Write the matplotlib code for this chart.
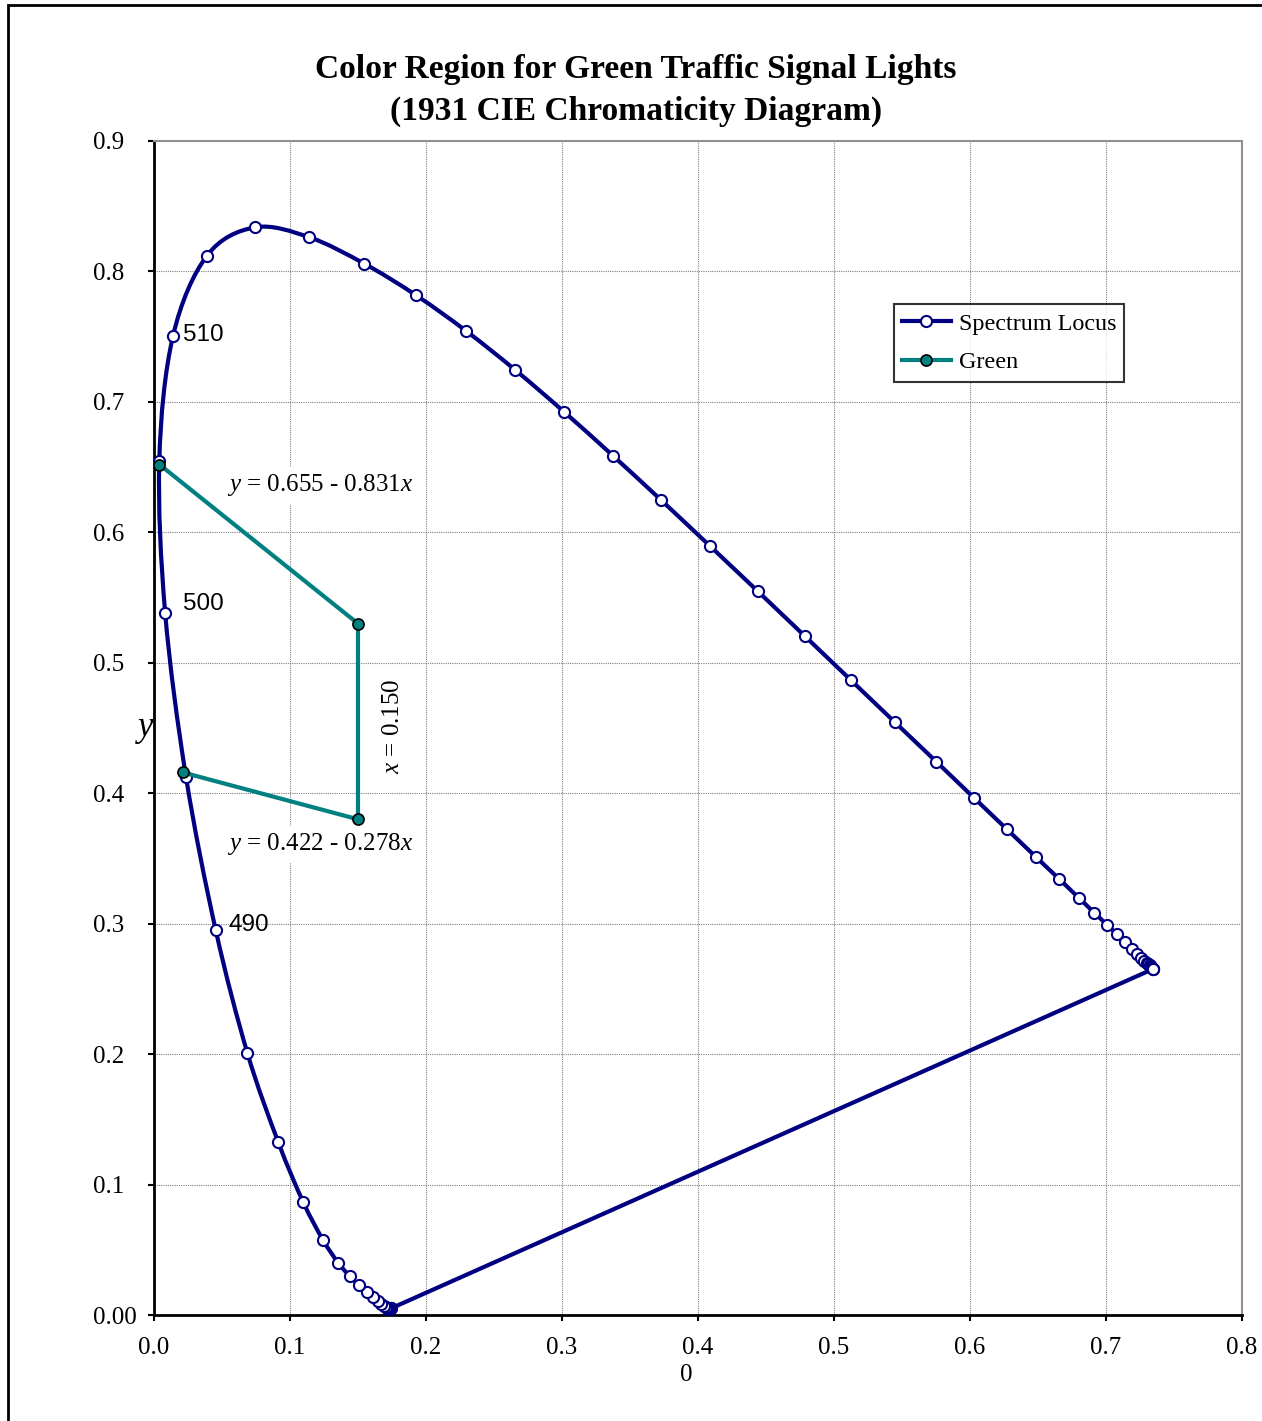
import numpy as np
import matplotlib
matplotlib.use("Agg")
import matplotlib.pyplot as plt
from matplotlib.path import Path
from matplotlib.patches import PathPatch, Rectangle
from matplotlib.lines import Line2D

plt.rcParams['font.family'] = 'Liberation Serif'
plt.rcParams['mathtext.fontset'] = 'custom'
plt.rcParams['mathtext.it'] = 'Liberation Serif:italic'
plt.rcParams['mathtext.rm'] = 'Liberation Serif'

# CIE 1931 spectrum locus, 380-700 nm every 5 nm
locus_x = [0.1741, 0.1740, 0.1738, 0.1736, 0.1733, 0.1730, 0.1726, 0.1721, 0.1714, 0.1703,
           0.1689, 0.1669, 0.1644, 0.1611, 0.1566, 0.1510, 0.1440, 0.1355, 0.1241, 0.1096,
           0.0913, 0.0687, 0.0454, 0.0235, 0.0082, 0.0039, 0.0139, 0.0389, 0.0743, 0.1142,
           0.1547, 0.1929, 0.2296, 0.2658, 0.3016, 0.3373, 0.3731, 0.4087, 0.4441, 0.4788,
           0.5125, 0.5448, 0.5752, 0.6029, 0.6270, 0.6482, 0.6658, 0.6801, 0.6915, 0.7006,
           0.7079, 0.7140, 0.7190, 0.7230, 0.7260, 0.7283, 0.7300, 0.7311, 0.7320, 0.7327,
           0.7334, 0.7340, 0.7344, 0.7346, 0.7347]
locus_y = [0.0050, 0.0050, 0.0049, 0.0049, 0.0048, 0.0048, 0.0048, 0.0048, 0.0051, 0.0058,
           0.0069, 0.0086, 0.0109, 0.0138, 0.0177, 0.0227, 0.0297, 0.0399, 0.0578, 0.0868,
           0.1327, 0.2007, 0.2950, 0.4127, 0.5384, 0.6548, 0.7502, 0.8120, 0.8338, 0.8262,
           0.8059, 0.7816, 0.7543, 0.7243, 0.6923, 0.6589, 0.6245, 0.5896, 0.5547, 0.5202,
           0.4866, 0.4544, 0.4242, 0.3965, 0.3725, 0.3514, 0.3340, 0.3197, 0.3083, 0.2993,
           0.2920, 0.2859, 0.2809, 0.2770, 0.2740, 0.2717, 0.2700, 0.2689, 0.2680, 0.2673,
           0.2666, 0.2660, 0.2656, 0.2654, 0.2653]

# green signal region boundary
green_x = [0.004, 0.150, 0.150, 0.021]
green_y = [0.652, 0.530, 0.380, 0.416]

# wavelength labels
wl_labels = ['510', '500', '490']
wl_x = [0.0213, 0.0213, 0.0550]
wl_y = [0.7510, 0.5450, 0.2990]

x_ticks = [0.0, 0.1, 0.2, 0.3, 0.4, 0.5, 0.6, 0.7, 0.8]
x_ticklabels = ['0.0', '0.1', '0.2', '0.3', '0.4', '0.5', '0.6', '0.7', '0.8']
y_ticks = [0.0, 0.1, 0.2, 0.3, 0.4, 0.5, 0.6, 0.7, 0.8, 0.9]
y_ticklabels = ['0.00', '0.1', '0.2', '0.3', '0.4', '0.5', '0.6', '0.7', '0.8', '0.9']

NAVY = '#000080'
TEAL = '#008080'


def smooth_path(xs, ys):
    """Excel-like smoothed line: cubic Bezier through the points."""
    p = np.column_stack([xs, ys])
    n = len(p)
    verts = [p[0]]
    codes = [Path.MOVETO]
    for i in range(n - 1):
        p0 = p[max(i - 1, 0)]
        p1 = p[i]
        p2 = p[i + 1]
        p3 = p[min(i + 2, n - 1)]
        verts += [p1 + (p2 - p0) / 6.0, p2 - (p3 - p1) / 6.0, p2]
        codes += [Path.CURVE4] * 3
    # close back to the start with a straight line (line of purples)
    verts.append(p[0])
    codes.append(Path.LINETO)
    return Path(verts, codes)


fig = plt.figure(figsize=(12.62, 14.21), dpi=100)
ax = fig.add_axes([154 / 1262, 1 - 1315 / 1421, 1088 / 1262, 1174 / 1421])

ax.add_patch(PathPatch(smooth_path(locus_x, locus_y), facecolor='none',
                       edgecolor=NAVY, lw=3, zorder=3))
ax.plot(locus_x, locus_y, 'o', mfc='white', mec=NAVY, ms=8, mew=1.5, zorder=4)

ax.plot(green_x, green_y, '-', color=TEAL, lw=3, zorder=5)
ax.plot(green_x, green_y, 'o', mfc=TEAL, mec='black', ms=8, mew=1.2, zorder=6)

for lab, x, y in zip(wl_labels, wl_x, wl_y):
    ax.text(x, y, lab, family='Liberation Sans', fontsize=17.5, ha='left', va='center')

box = dict(facecolor='white', edgecolor='none', pad=4)
ax.text(0.122, 0.636, r'$y$ = 0.655 - 0.831$x$', fontsize=18, ha='center', va='center',
        bbox=box, zorder=2)
ax.text(0.122, 0.361, r'$y$ = 0.422 - 0.278$x$', fontsize=18, ha='center', va='center',
        bbox=box, zorder=2)
ax.text(0.176, 0.451, r'$x$ = 0.150', fontsize=18, ha='center', va='center', rotation=90)

ax.set_xlim(0, 0.8)
ax.set_ylim(0, 0.9)
ax.set_xticks(x_ticks)
ax.set_xticklabels(x_ticklabels)
ax.set_yticks(y_ticks)
ax.set_yticklabels(y_ticklabels, ha='left')
ax.tick_params(axis='both', direction='out', length=4.5, width=1.5, labelsize=18)
ax.tick_params(axis='y', pad=39.4)
ax.tick_params(axis='x', pad=11)
ax.grid(True, color='#808080', linestyle=(0, (1, 1)), linewidth=0.8)
ax.set_axisbelow(True)
for s in ['left', 'bottom']:
    ax.spines[s].set_linewidth(2)
    ax.spines[s].set_color('black')
for s in ['top', 'right']:
    ax.spines[s].set_linewidth(1.5)
    ax.spines[s].set_color('#909090')

ax.text(-0.008, 0.5, 'y', style='italic', fontsize=25, ha='center', va='center',
        transform=ax.transAxes)
ax.text(0.489, -0.051, '0', fontsize=18, ha='center', va='center', transform=ax.transAxes)

handles = [Line2D([], [], color=NAVY, lw=3, marker='o', mfc='white', mec=NAVY, ms=8, mew=1.5),
           Line2D([], [], color=TEAL, lw=3, marker='o', mfc=TEAL, mec='black', ms=8, mew=1.2)]
leg = ax.legend(handles, ['Spectrum Locus', 'Green'], loc='upper right',
                bbox_to_anchor=(0.892, 0.861), fontsize=17.4, frameon=True, fancybox=False,
                handlelength=2.0, handletextpad=0.33, borderpad=0.35, labelspacing=0.7,
                borderaxespad=0)
leg.get_frame().set_edgecolor('black')
leg.get_frame().set_linewidth(1.5)

fig.text(0.504, 1 - 78 / 1421, 'Color Region for Green Traffic Signal Lights',
         fontsize=24.1, fontweight='bold', ha='center', va='baseline')
fig.text(0.504, 1 - 120 / 1421, '(1931 CIE Chromaticity Diagram)',
         fontsize=24.1, fontweight='bold', ha='center', va='baseline')

# outer chart border (cut off on right and bottom)
fig.patches.append(Rectangle((7.5 / 1262, -0.05), 1.2, 1.05 - 5.5 / 1421, transform=fig.transFigure,
                             fill=False, edgecolor='black', lw=2))

fig.savefig('out.png', dpi=100)
